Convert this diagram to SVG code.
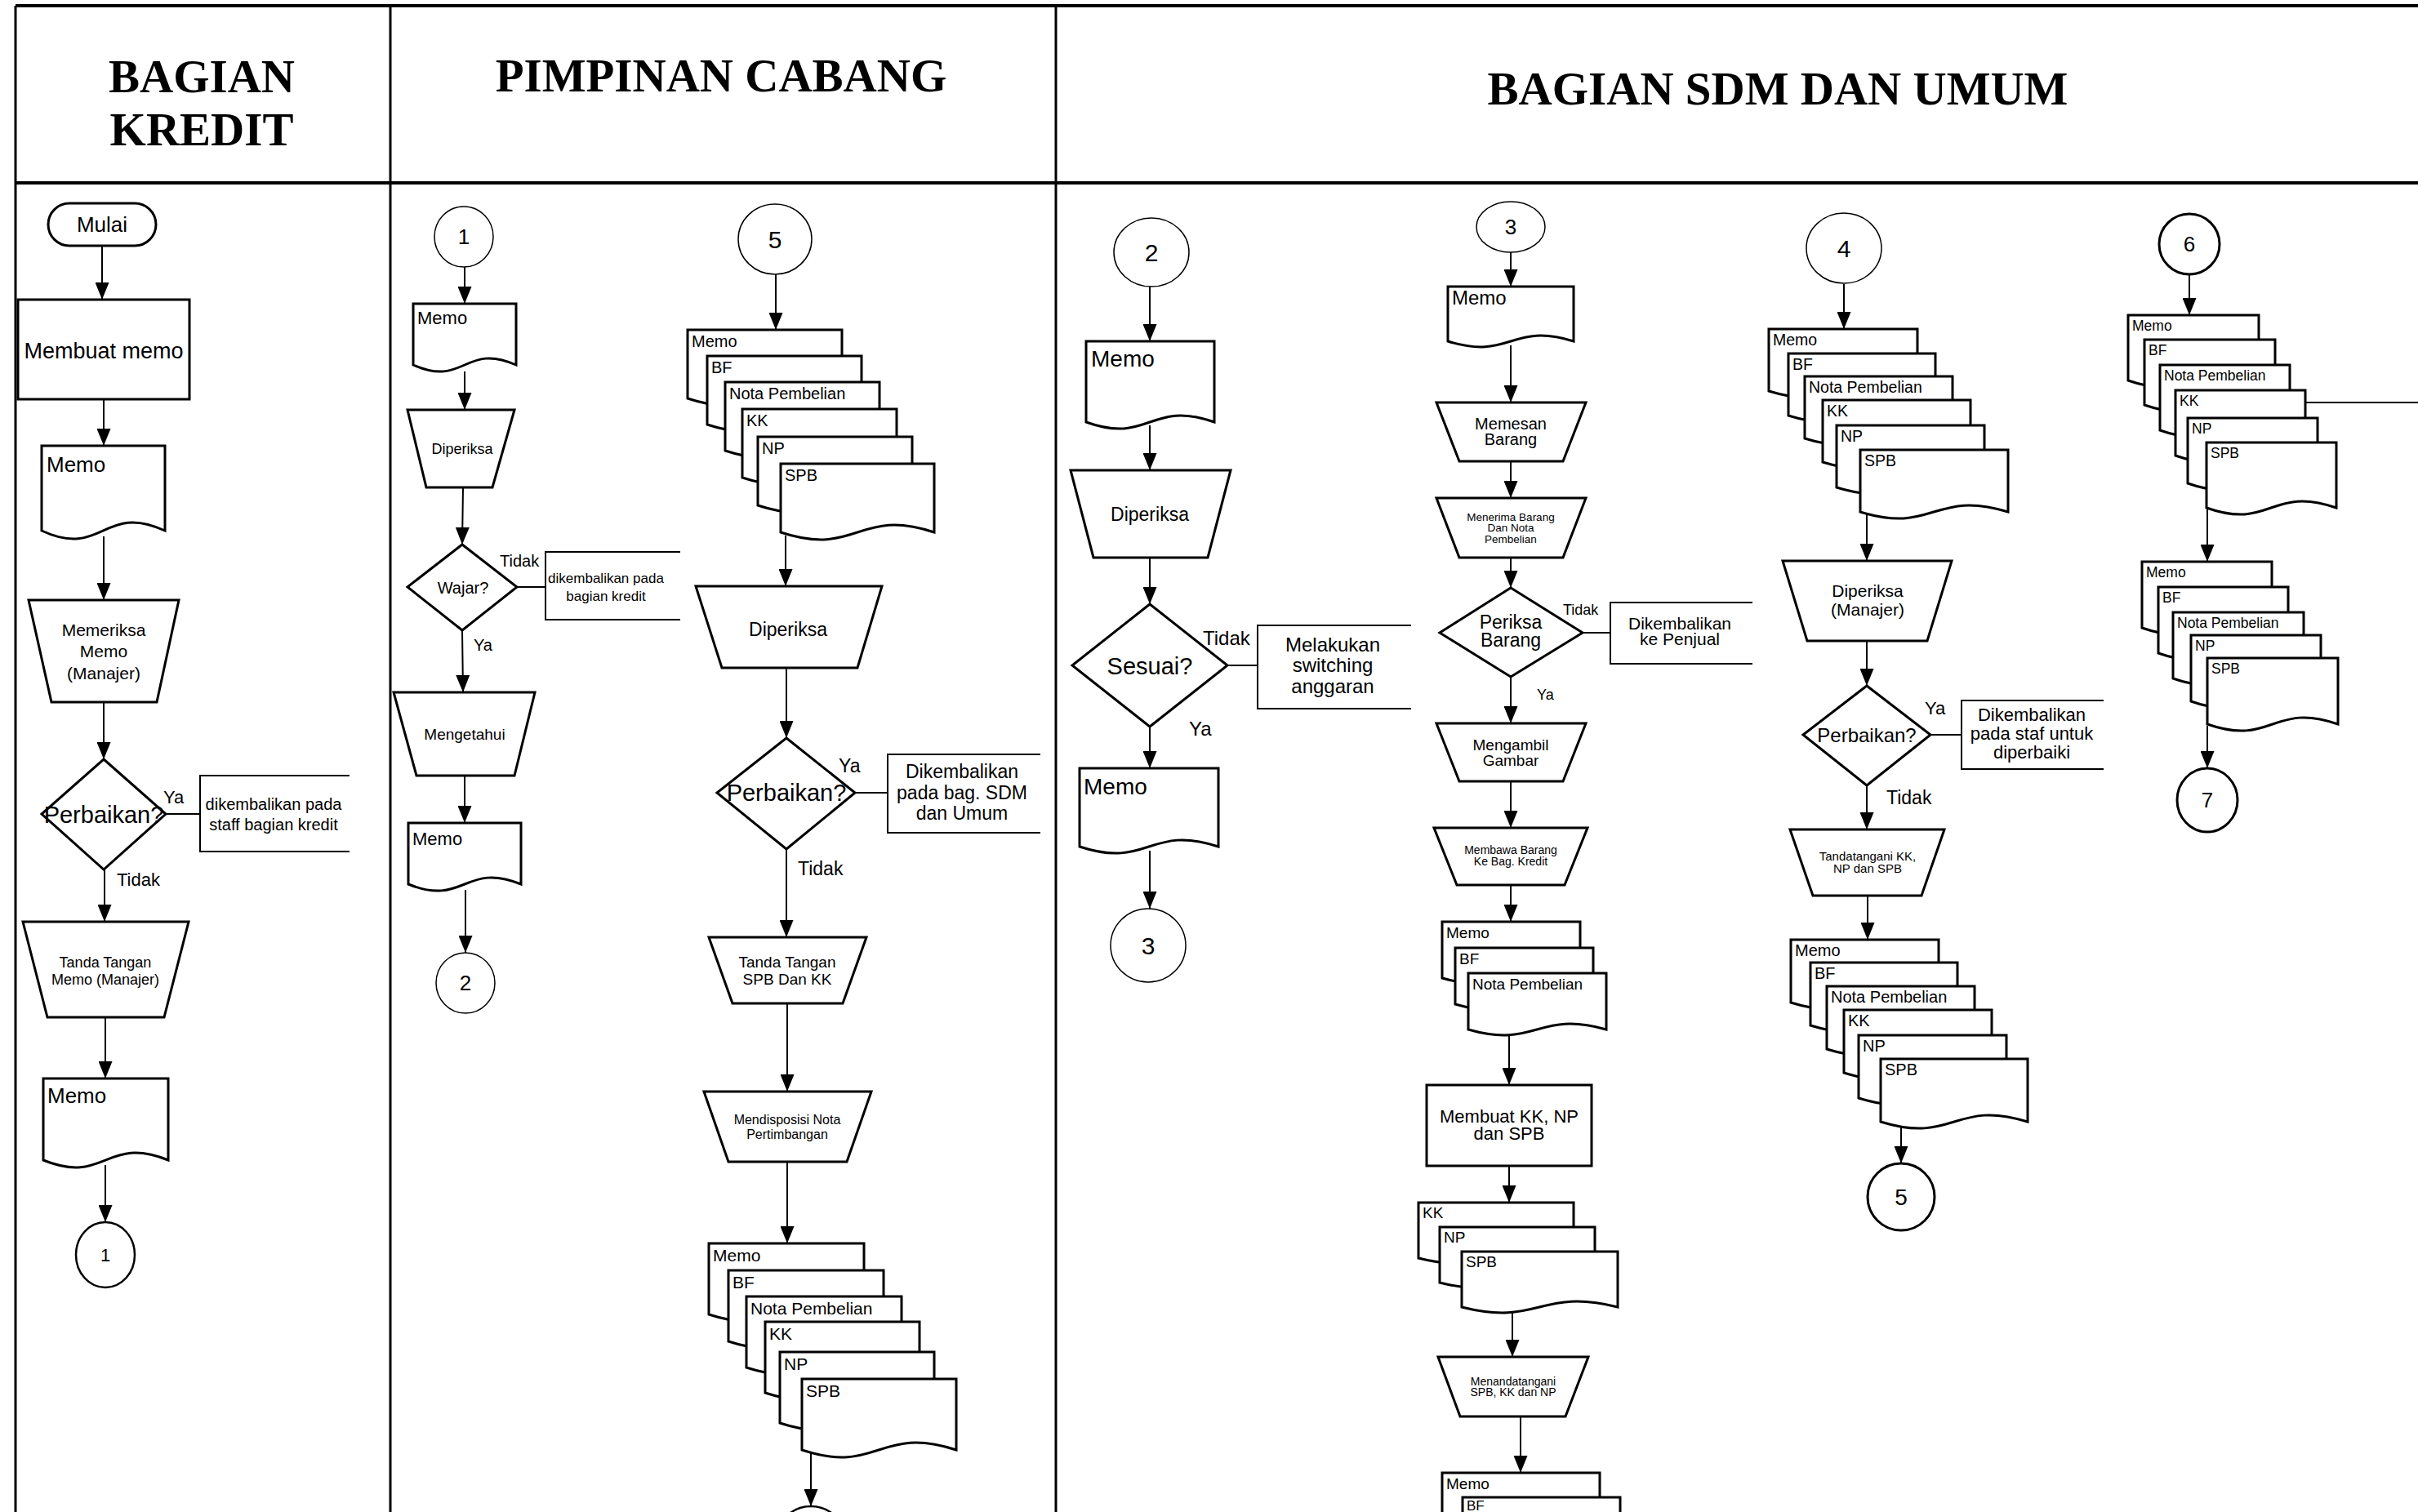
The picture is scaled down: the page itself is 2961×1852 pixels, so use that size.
<svg xmlns="http://www.w3.org/2000/svg" width="2961" height="1852" viewBox="0 0 2961 1852">
<style>
.bg{fill:#fff}
.lane{stroke:#000;stroke-width:3;fill:none}
.lh{stroke:#000;stroke-width:4;fill:none}
.hdr{font-family:"Liberation Serif","Times New Roman",serif;font-weight:bold;font-size:57px;text-anchor:middle;fill:#000}
.s{fill:#fff;stroke:#000;stroke-width:3}
.ct{fill:#fff;stroke:#000;stroke-width:1.5}
.ck{fill:#fff;stroke:#000;stroke-width:3}
.box{fill:none;stroke:#000;stroke-width:2}
.t{font-family:"Liberation Sans",Arial,sans-serif;fill:#000}
.m{text-anchor:middle}
.c{stroke:#000;stroke-width:2;fill:none;marker-end:url(#ah)}
.l{stroke:#000;stroke-width:2;fill:none}
</style>
<defs>
<marker id="ah" markerWidth="21" markerHeight="17" refX="21" refY="8.5" orient="auto" markerUnits="userSpaceOnUse"><path d="M0,0 L21,8.5 L0,17 Z" fill="#000"/></marker>
</defs>
<rect class="bg" x="0" y="0" width="2961" height="1852"/>
<g id="lanes">
<line class="lh" x1="19" y1="7" x2="2961" y2="7"/>
<line class="lh" x1="19" y1="224" x2="2961" y2="224"/>
<line class="lane" x1="19" y1="7" x2="19" y2="1852"/>
<line class="lane" x1="478" y1="7" x2="478" y2="1852"/>
<line class="lane" x1="1293" y1="7" x2="1293" y2="1852"/>
<text class="hdr" x="247" y="113">BAGIAN</text>
<text class="hdr" x="247" y="178">KREDIT</text>
<text class="hdr" x="883" y="112">PIMPINAN CABANG</text>
<text class="hdr" x="2177" y="128">BAGIAN SDM DAN UMUM</text>
</g>
<g id="connectors">
<line class="c" x1="125" y1="301" x2="125" y2="367"/>
<line class="c" x1="127" y1="489" x2="127" y2="546"/>
<line class="c" x1="127" y1="657" x2="127" y2="735"/>
<line class="c" x1="127" y1="860" x2="127" y2="930"/>
<line class="c" x1="128" y1="1065" x2="128" y2="1129"/>
<line class="c" x1="129" y1="1246" x2="129" y2="1321"/>
<line class="c" x1="129" y1="1427" x2="129" y2="1497"/>
<line class="l" x1="203" y1="997" x2="245" y2="997"/>
<line class="c" x1="569" y1="327" x2="569" y2="372"/>
<line class="c" x1="569" y1="455" x2="569" y2="502"/>
<line class="c" x1="567" y1="597" x2="566" y2="667"/>
<line class="c" x1="566" y1="772" x2="567" y2="848"/>
<line class="c" x1="569" y1="950" x2="569" y2="1008"/>
<line class="c" x1="570" y1="1090" x2="570" y2="1167"/>
<line class="l" x1="633" y1="719" x2="668" y2="719"/>
<line class="c" x1="950" y1="336" x2="950" y2="404"/>
<line class="c" x1="962" y1="656" x2="962" y2="718"/>
<line class="c" x1="963" y1="818" x2="963" y2="904"/>
<line class="c" x1="963" y1="1040" x2="963" y2="1148"/>
<line class="c" x1="964" y1="1229" x2="964" y2="1337"/>
<line class="c" x1="964" y1="1423" x2="964" y2="1523"/>
<line class="c" x1="993" y1="1779" x2="993" y2="1845"/>
<line class="l" x1="1047" y1="971" x2="1087" y2="971"/>
<line class="c" x1="1408" y1="351" x2="1408" y2="418"/>
<line class="c" x1="1408" y1="521" x2="1408" y2="576"/>
<line class="c" x1="1408" y1="683" x2="1408" y2="740"/>
<line class="c" x1="1408" y1="890" x2="1408" y2="941"/>
<line class="c" x1="1408" y1="1042" x2="1408" y2="1113"/>
<line class="l" x1="1503" y1="815" x2="1540" y2="815"/>
<line class="c" x1="1850" y1="309" x2="1850" y2="351"/>
<line class="c" x1="1850" y1="423" x2="1850" y2="493"/>
<line class="c" x1="1850" y1="565" x2="1850" y2="610"/>
<line class="c" x1="1850" y1="683" x2="1850" y2="720"/>
<line class="c" x1="1850" y1="829" x2="1850" y2="886"/>
<line class="c" x1="1850" y1="957" x2="1850" y2="1014"/>
<line class="c" x1="1850" y1="1084" x2="1850" y2="1129"/>
<line class="c" x1="1848" y1="1268" x2="1848" y2="1329"/>
<line class="c" x1="1848" y1="1428" x2="1848" y2="1473"/>
<line class="c" x1="1852" y1="1607" x2="1852" y2="1662"/>
<line class="c" x1="1862" y1="1735" x2="1862" y2="1804"/>
<line class="l" x1="1938" y1="775" x2="1972" y2="775"/>
<line class="c" x1="2258" y1="348" x2="2258" y2="403"/>
<line class="c" x1="2286" y1="630" x2="2286" y2="687"/>
<line class="c" x1="2286" y1="785" x2="2286" y2="840"/>
<line class="c" x1="2286" y1="962" x2="2286" y2="1016"/>
<line class="c" x1="2287" y1="1097" x2="2287" y2="1151"/>
<line class="c" x1="2328" y1="1380" x2="2328" y2="1425"/>
<line class="l" x1="2364" y1="900" x2="2402" y2="900"/>
<line class="c" x1="2681" y1="336" x2="2681" y2="386"/>
<line class="c" x1="2703" y1="624" x2="2703" y2="688"/>
<line class="c" x1="2703" y1="889" x2="2703" y2="941"/>
<line class="l" x1="2823" y1="493" x2="2961" y2="493"/>
</g>
<g id="kredit">
<g id="k-mulai"><rect class="s" x="59" y="249" width="132" height="52" rx="26"/><text class="t m" x="125" y="284" font-size="26">Mulai</text></g>
<g id="k-membuat"><rect class="s" x="22" y="367" width="210" height="122"/><text class="t m" x="127" y="439" font-size="27">Membuat memo</text></g>
<g id="k-memo1"><path class="s" d="M51,546 H202 V650 C126,615 126,685 51,650 Z"/><text class="t" x="57" y="578" font-size="26">Memo</text></g>
<g id="k-memeriksa"><path class="s" d="M35,735 L219,735 L192,860 L63,860 Z"/><text class="t m" x="127" font-size="21"><tspan x="127" y="779">Memeriksa</tspan><tspan x="127" y="805">Memo</tspan><tspan x="127" y="832">(Manajer)</tspan></text></g>
<g id="k-perbaikan"><path class="s" d="M127,930 L203,997 L127,1065 L51,997 Z"/><text class="t m" x="127" y="1008" font-size="29">Perbaikan?</text></g>
<g id="k-kembali"><path class="box" d="M428,950 H245 V1043 H428"/><text class="t m" font-size="20"><tspan x="335" y="992">dikembalikan pada</tspan><tspan x="335" y="1017">staff bagian kredit</tspan></text></g>
<text class="t" x="200" y="984" font-size="22">Ya</text>
<text class="t" x="143" y="1085" font-size="22">Tidak</text>
<g id="k-tanda"><path class="s" d="M28,1129 L231,1129 L201,1246 L58,1246 Z"/><text class="t m" font-size="18"><tspan x="129" y="1185">Tanda Tangan</tspan><tspan x="129" y="1206">Memo (Manajer)</tspan></text></g>
<g id="k-memo2"><path class="s" d="M53,1321 H206 V1421 C129,1390 129,1452 53,1421 Z"/><text class="t" x="58" y="1351" font-size="26">Memo</text></g>
<g id="k-c1"><ellipse cx="129" cy="1537" rx="36" ry="40" fill="#fff" stroke="#000" stroke-width="2.5"/><text class="t m" x="129" y="1545" font-size="22">1</text></g>
</g>
<g id="pimpinan">
<g id="p-c1"><ellipse class="ct" cx="568" cy="290" rx="36" ry="37"/><text class="t m" x="568" y="299" font-size="26">1</text></g>
<g id="p-memo1"><path class="s" d="M506,372 H632 V447 C569,419 569,475 506,447 Z"/><text class="t" x="511" y="397" font-size="22">Memo</text></g>
<g id="p-diperiksa"><path class="s" d="M499,502 L630,502 L603,597 L522,597 Z"/><text class="t m" x="566" y="556" font-size="18">Diperiksa</text></g>
<g id="p-wajar"><path class="s" d="M566,667 L633,719 L566,772 L499,719 Z"/><text class="t m" x="567" y="727" font-size="20">Wajar?</text></g>
<text class="t" x="612" y="694" font-size="20">Tidak</text>
<g id="p-kembali"><path class="box" d="M833,676 H668 V759 H833"/><text class="t m" font-size="17"><tspan x="742" y="714">dikembalikan pada</tspan><tspan x="742" y="736">bagian kredit</tspan></text></g>
<text class="t" x="580" y="797" font-size="20">Ya</text>
<g id="p-mengetahui"><path class="s" d="M482,848 L655,848 L630,950 L510,950 Z"/><text class="t m" x="569" y="906" font-size="19">Mengetahui</text></g>
<g id="p-memo2"><path class="s" d="M500,1008 H638 V1083 C569,1055 569,1111 500,1083 Z"/><text class="t" x="505" y="1035" font-size="22">Memo</text></g>
<g id="p-c2"><ellipse class="ct" cx="570" cy="1204" rx="36" ry="37"/><text class="t m" x="570" y="1213" font-size="26">2</text></g>
<g id="p-c5"><ellipse class="ct" cx="949" cy="293" rx="45" ry="43"/><text class="t m" x="949" y="304" font-size="30">5</text></g>
<g id="p-stack1" font-size="20">
<path class="s" d="M842,404 H1031 V488 C936,457 936,519 842,488 Z"/><text class="t" x="847" y="425">Memo</text>
<path class="s" d="M866,436 H1055 V520 C960,489 960,551 866,520 Z"/><text class="t" x="871" y="457">BF</text>
<path class="s" d="M888,468 H1077 V552 C982,521 982,583 888,552 Z"/><text class="t" x="893" y="489">Nota Pembelian</text>
<path class="s" d="M909,501 H1098 V585 C1003,554 1003,616 909,585 Z"/><text class="t" x="914" y="522">KK</text>
<path class="s" d="M928,535 H1117 V619 C1022,588 1022,650 928,619 Z"/><text class="t" x="933" y="556">NP</text>
<path class="s" d="M956,568 H1144 V652 C1050,621 1050,683 956,652 Z"/><text class="t" x="961" y="589">SPB</text>
</g>
<g id="p-diperiksa2"><path class="s" d="M852,718 L1080,718 L1050,818 L884,818 Z"/><text class="t m" x="965" y="779" font-size="23">Diperiksa</text></g>
<g id="p-perbaikan"><path class="s" d="M963,904 L1047,971 L963,1040 L878,971 Z"/><text class="t m" x="963" y="981" font-size="29">Perbaikan?</text></g>
<text class="t" x="1027" y="946" font-size="23">Ya</text>
<g id="p-kembali2"><path class="box" d="M1274,924 H1087 V1020 H1274"/><text class="t m" font-size="23"><tspan x="1178" y="953">Dikembalikan</tspan><tspan x="1178" y="979">pada bag. SDM</tspan><tspan x="1178" y="1004">dan Umum</tspan></text></g>
<text class="t" x="977" y="1072" font-size="23">Tidak</text>
<g id="p-ttd"><path class="s" d="M868,1148 L1061,1148 L1032,1229 L897,1229 Z"/><text class="t m" font-size="19"><tspan x="964" y="1185">Tanda Tangan</tspan><tspan x="964" y="1206">SPB Dan KK</tspan></text></g>
<g id="p-disposisi"><path class="s" d="M862,1337 L1067,1337 L1037,1423 L892,1423 Z"/><text class="t m" font-size="16"><tspan x="964" y="1377">Mendisposisi Nota</tspan><tspan x="964" y="1395">Pertimbangan</tspan></text></g>
<g id="p-stack2" font-size="21">
<path class="s" d="M868,1523 H1058 V1610 C963,1579 963,1641 868,1610 Z"/><text class="t" x="873" y="1545">Memo</text>
<path class="s" d="M892,1556 H1082 V1643 C987,1612 987,1674 892,1643 Z"/><text class="t" x="897" y="1578">BF</text>
<path class="s" d="M914,1588 H1104 V1675 C1009,1644 1009,1706 914,1675 Z"/><text class="t" x="919" y="1610">Nota Pembelian</text>
<path class="s" d="M937,1619 H1126 V1706 C1031,1675 1031,1737 937,1706 Z"/><text class="t" x="942" y="1641">KK</text>
<path class="s" d="M955,1656 H1144 V1743 C1049,1712 1049,1774 955,1743 Z"/><text class="t" x="960" y="1678">NP</text>
<path class="s" d="M982,1689 H1171 V1776 C1076,1745 1076,1807 982,1776 Z"/><text class="t" x="987" y="1711">SPB</text>
</g>
<g id="p-c6"><ellipse cx="993" cy="1888" rx="43" ry="43" fill="#fff" stroke="#000" stroke-width="2.5"/></g>
</g>
<g id="sdm">
<g id="s-c2"><ellipse class="ct" cx="1410" cy="309" rx="46" ry="42"/><text class="t m" x="1410" y="320" font-size="30">2</text></g>
<g id="s-memo1"><path class="s" d="M1330,418 H1487 V517 C1408,489 1408,545 1330,517 Z"/><text class="t" x="1336" y="449" font-size="28">Memo</text></g>
<g id="s-diperiksa"><path class="s" d="M1311,576 L1507,576 L1479,683 L1339,683 Z"/><text class="t m" x="1408" y="638" font-size="23">Diperiksa</text></g>
<g id="s-sesuai"><path class="s" d="M1408,740 L1503,815 L1408,890 L1313,815 Z"/><text class="t m" x="1408" y="826" font-size="29">Sesuai?</text></g>
<text class="t" x="1473" y="790" font-size="24">Tidak</text>
<g id="s-switch"><path class="box" d="M1728,766 H1540 V868 H1728"/><text class="t m" font-size="24"><tspan x="1632" y="798">Melakukan</tspan><tspan x="1632" y="823">switching</tspan><tspan x="1632" y="849">anggaran</tspan></text></g>
<text class="t" x="1456" y="901" font-size="24">Ya</text>
<g id="s-memo2"><path class="s" d="M1322,941 H1492 V1037 C1407,1009 1407,1065 1322,1037 Z"/><text class="t" x="1327" y="973" font-size="28">Memo</text></g>
<g id="s-c3a"><ellipse class="ct" cx="1406" cy="1158" rx="46" ry="45"/><text class="t m" x="1406" y="1169" font-size="30">3</text></g>
<g id="s-c3b"><ellipse class="ct" cx="1850" cy="278" rx="42" ry="31"/><text class="t m" x="1850" y="287" font-size="26">3</text></g>
<g id="s-memo3"><path class="s" d="M1773,351 H1927 V418 C1850,394 1850,442 1773,418 Z"/><text class="t" x="1778" y="373" font-size="24">Memo</text></g>
<g id="s-memesan"><path class="s" d="M1759,493 L1942,493 L1914,565 L1787,565 Z"/><text class="t m" font-size="20"><tspan x="1850" y="526">Memesan</tspan><tspan x="1850" y="545">Barang</tspan></text></g>
<g id="s-menerima"><path class="s" d="M1759,610 L1942,610 L1914,683 L1787,683 Z"/><text class="t m" font-size="13.5"><tspan x="1850" y="638">Menerima Barang</tspan><tspan x="1850" y="651">Dan Nota</tspan><tspan x="1850" y="665">Pembelian</tspan></text></g>
<g id="s-periksa"><path class="s" d="M1850,720 L1938,775 L1850,829 L1763,775 Z"/><text class="t m" font-size="23"><tspan x="1850" y="770">Periksa</tspan><tspan x="1850" y="792">Barang</tspan></text></g>
<text class="t" x="1914" y="753" font-size="18">Tidak</text>
<g id="s-penjual"><path class="box" d="M2146,738 H1972 V813 H2146"/><text class="t m" font-size="21"><tspan x="2057" y="771">Dikembalikan</tspan><tspan x="2057" y="790">ke Penjual</tspan></text></g>
<text class="t" x="1882" y="857" font-size="18">Ya</text>
<g id="s-gambar"><path class="s" d="M1759,886 L1942,886 L1914,957 L1787,957 Z"/><text class="t m" font-size="19"><tspan x="1850" y="919">Mengambil</tspan><tspan x="1850" y="938">Gambar</tspan></text></g>
<g id="s-membawa"><path class="s" d="M1756,1014 L1944,1014 L1916,1084 L1784,1084 Z"/><text class="t m" font-size="14"><tspan x="1850" y="1046">Membawa Barang</tspan><tspan x="1850" y="1060">Ke Bag. Kredit</tspan></text></g>
<g id="s-stack3" font-size="19">
<path class="s" d="M1766,1129 H1935 V1198 C1850,1174 1850,1222 1766,1198 Z"/><text class="t" x="1771" y="1149">Memo</text>
<path class="s" d="M1782,1161 H1951 V1230 C1866,1206 1866,1254 1782,1230 Z"/><text class="t" x="1787" y="1181">BF</text>
<path class="s" d="M1798,1192 H1967 V1261 C1882,1237 1882,1285 1798,1261 Z"/><text class="t" x="1803" y="1212">Nota Pembelian</text>
</g>
<g id="s-buatkk"><rect class="s" x="1747" y="1329" width="202" height="99"/><text class="t m" font-size="22"><tspan x="1848" y="1375">Membuat KK, NP</tspan><tspan x="1848" y="1396">dan SPB</tspan></text></g>
<g id="s-stack4" font-size="19">
<path class="s" d="M1737,1473 H1927 V1541 C1832,1517 1832,1565 1737,1541 Z"/><text class="t" x="1742" y="1492">KK</text>
<path class="s" d="M1763,1503 H1953 V1571 C1858,1547 1858,1595 1763,1571 Z"/><text class="t" x="1768" y="1522">NP</text>
<path class="s" d="M1790,1533 H1981 V1601 C1885,1577 1885,1625 1790,1601 Z"/><text class="t" x="1795" y="1552">SPB</text>
</g>
<g id="s-menandatangani"><path class="s" d="M1761,1662 L1945,1662 L1917,1735 L1788,1735 Z"/><text class="t m" font-size="14"><tspan x="1853" y="1697">Menandatangani</tspan><tspan x="1853" y="1710">SPB, KK dan NP</tspan></text></g>
<g id="s-stack5" font-size="19">
<path class="s" d="M1766,1804 H1959 V1874 C1862,1850 1862,1898 1766,1874 Z"/><text class="t" x="1771" y="1824">Memo</text>
<path class="s" d="M1791,1834 H1984 V1906 C1887,1882 1887,1930 1791,1906 Z"/><text class="t" x="1796" y="1850" font-size="17">BF</text>
</g>
<g id="s-c4"><ellipse class="ct" cx="2258" cy="304" rx="46" ry="43"/><text class="t m" x="2258" y="315" font-size="30">4</text></g>
<g id="s-stack6" font-size="19.5">
<path class="s" d="M2166,403 H2348 V479 C2257,451 2257,507 2166,479 Z"/><text class="t" x="2171" y="423">Memo</text>
<path class="s" d="M2190,433 H2370 V509 C2280,481 2280,537 2190,509 Z"/><text class="t" x="2195" y="453">BF</text>
<path class="s" d="M2210,461 H2391 V537 C2300,509 2300,565 2210,537 Z"/><text class="t" x="2215" y="481">Nota Pembelian</text>
<path class="s" d="M2232,490 H2413 V566 C2322,538 2322,594 2232,566 Z"/><text class="t" x="2237" y="510">KK</text>
<path class="s" d="M2249,521 H2430 V597 C2340,569 2340,625 2249,597 Z"/><text class="t" x="2254" y="541">NP</text>
<path class="s" d="M2278,551 H2459 V627 C2368,599 2368,655 2278,627 Z"/><text class="t" x="2283" y="571">SPB</text>
</g>
<g id="s-periksamgr"><path class="s" d="M2183,687 L2390,687 L2360,785 L2213,785 Z"/><text class="t m" font-size="21"><tspan x="2287" y="731">Diperiksa</tspan><tspan x="2287" y="754">(Manajer)</tspan></text></g>
<g id="s-perbaikan"><path class="s" d="M2286,840 L2364,900 L2286,962 L2208,900 Z"/><text class="t m" x="2286" y="909" font-size="24">Perbaikan?</text></g>
<text class="t" x="2357" y="875" font-size="22">Ya</text>
<g id="s-staf"><path class="box" d="M2576,858 H2402 V942 H2576"/><text class="t m" font-size="22"><tspan x="2488" y="883">Dikembalikan</tspan><tspan x="2488" y="906">pada staf untuk</tspan><tspan x="2488" y="929">diperbaiki</tspan></text></g>
<text class="t" x="2310" y="985" font-size="23">Tidak</text>
<g id="s-tandatangani"><path class="s" d="M2192,1016 L2381,1016 L2353,1097 L2220,1097 Z"/><text class="t m" font-size="15"><tspan x="2287" y="1054">Tandatangani KK,</tspan><tspan x="2287" y="1069">NP dan SPB</tspan></text></g>
<g id="s-stack7" font-size="20">
<path class="s" d="M2193,1151 H2374 V1228 C2283,1200 2283,1256 2193,1228 Z"/><text class="t" x="2198" y="1171">Memo</text>
<path class="s" d="M2217,1179 H2397 V1256 C2307,1228 2307,1284 2217,1256 Z"/><text class="t" x="2222" y="1199">BF</text>
<path class="s" d="M2237,1208 H2418 V1285 C2327,1257 2327,1313 2237,1285 Z"/><text class="t" x="2242" y="1228">Nota Pembelian</text>
<path class="s" d="M2258,1237 H2439 V1314 C2348,1286 2348,1342 2258,1314 Z"/><text class="t" x="2263" y="1257">KK</text>
<path class="s" d="M2276,1268 H2457 V1345 C2366,1317 2366,1373 2276,1345 Z"/><text class="t" x="2281" y="1288">NP</text>
<path class="s" d="M2303,1297 H2483 V1374 C2393,1346 2393,1402 2303,1374 Z"/><text class="t" x="2308" y="1317">SPB</text>
</g>
<g id="s-c5"><ellipse class="ck" cx="2328" cy="1466" rx="41" ry="41"/><text class="t m" x="2328" y="1476" font-size="28">5</text></g>
<g id="s-c6"><ellipse class="ck" cx="2681" cy="299" rx="37" ry="37"/><text class="t m" x="2681" y="308" font-size="26">6</text></g>
<g id="s-stack8" font-size="17.5">
<path class="s" d="M2606,386 H2766 V466 C2686,438 2686,494 2606,466 Z"/><text class="t" x="2611" y="405">Memo</text>
<path class="s" d="M2626,416 H2786 V496 C2706,468 2706,524 2626,496 Z"/><text class="t" x="2631" y="435">BF</text>
<path class="s" d="M2645,447 H2804 V527 C2724,499 2724,555 2645,527 Z"/><text class="t" x="2650" y="466">Nota Pembelian</text>
<path class="s" d="M2664,478 H2823 V558 C2743,530 2743,586 2664,558 Z"/><text class="t" x="2669" y="497">KK</text>
<path class="s" d="M2679,512 H2838 V592 C2758,564 2758,620 2679,592 Z"/><text class="t" x="2684" y="531">NP</text>
<path class="s" d="M2702,542 H2861 V622 C2781,594 2781,650 2702,622 Z"/><text class="t" x="2707" y="561">SPB</text>
</g>
<g id="s-stack9" font-size="17.5">
<path class="s" d="M2623,688 H2782 V769 C2702,741 2702,797 2623,769 Z"/><text class="t" x="2628" y="707">Memo</text>
<path class="s" d="M2643,719 H2802 V800 C2722,772 2722,828 2643,800 Z"/><text class="t" x="2648" y="738">BF</text>
<path class="s" d="M2661,750 H2821 V831 C2741,803 2741,859 2661,831 Z"/><text class="t" x="2666" y="769">Nota Pembelian</text>
<path class="s" d="M2683,778 H2842 V859 C2762,831 2762,887 2683,859 Z"/><text class="t" x="2688" y="797">NP</text>
<path class="s" d="M2703,806 H2863 V887 C2783,859 2783,915 2703,887 Z"/><text class="t" x="2708" y="825">SPB</text>
</g>
<g id="s-c7"><ellipse class="ck" cx="2703" cy="980" rx="37" ry="39"/><text class="t m" x="2703" y="989" font-size="26">7</text></g>
</g>
</svg>
